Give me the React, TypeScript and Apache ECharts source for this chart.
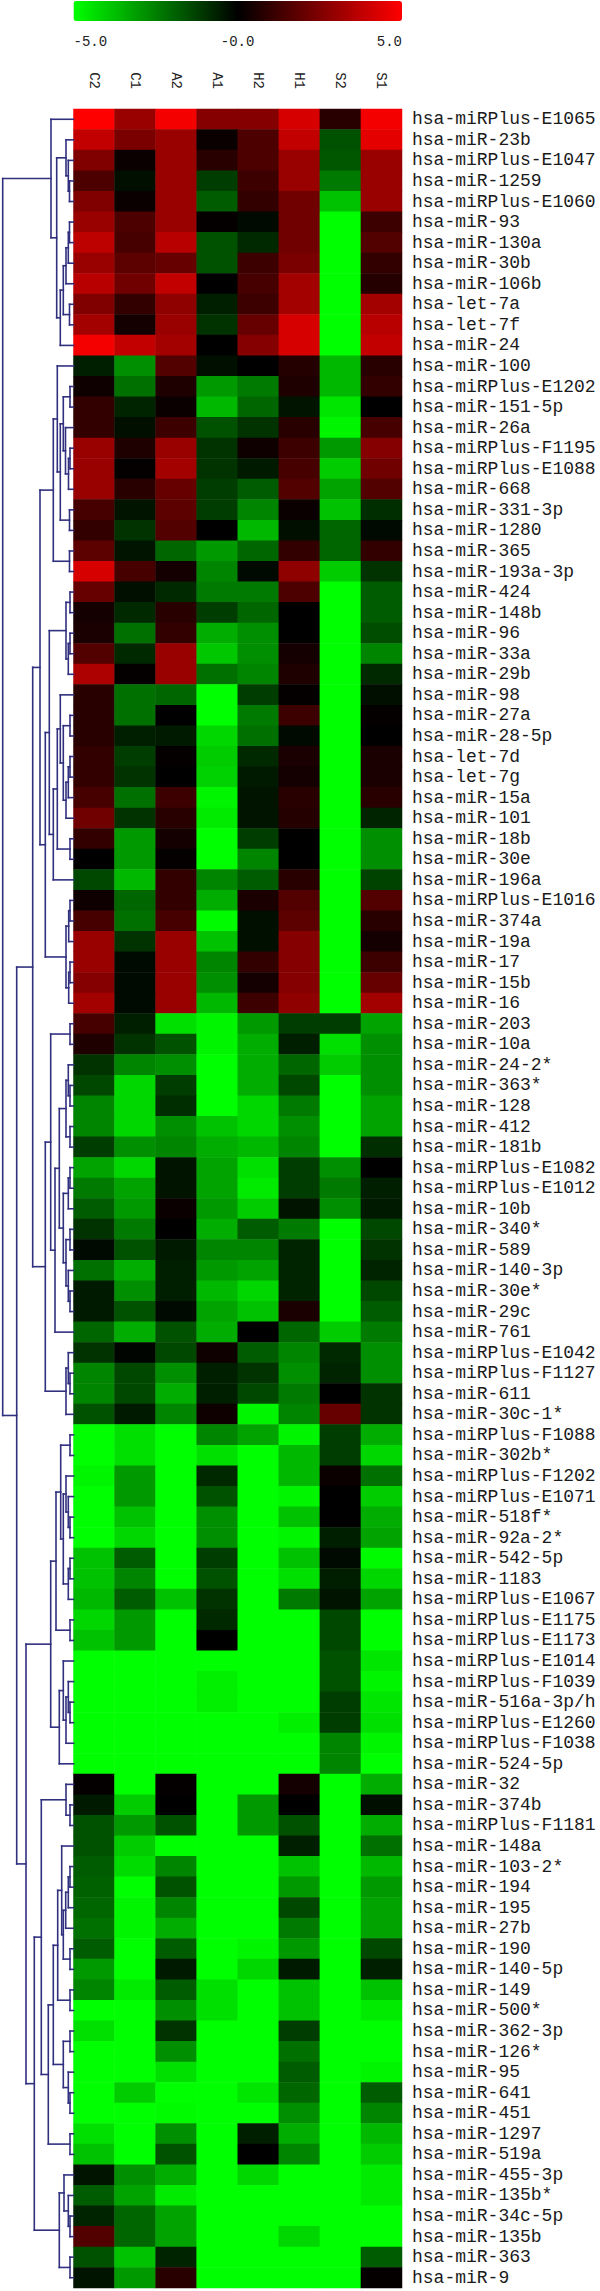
import React, { useEffect, useRef } from "react";
import * as echarts from "echarts";

const samples = ["C2", "C1", "A2", "A1", "H2", "H1", "S2", "S1"];

const mirnas = [
  "hsa-miRPlus-E1065","hsa-miR-23b","hsa-miRPlus-E1047","hsa-miR-1259","hsa-miRPlus-E1060","hsa-miR-93","hsa-miR-130a","hsa-miR-30b","hsa-miR-106b","hsa-let-7a","hsa-let-7f","hsa-miR-24",
  "hsa-miR-100","hsa-miRPlus-E1202","hsa-miR-151-5p","hsa-miR-26a","hsa-miRPlus-F1195","hsa-miRPlus-E1088","hsa-miR-668","hsa-miR-331-3p","hsa-miR-1280","hsa-miR-365","hsa-miR-193a-3p","hsa-miR-424",
  "hsa-miR-148b","hsa-miR-96","hsa-miR-33a","hsa-miR-29b","hsa-miR-98","hsa-miR-27a","hsa-miR-28-5p","hsa-let-7d","hsa-let-7g","hsa-miR-15a","hsa-miR-101","hsa-miR-18b",
  "hsa-miR-30e","hsa-miR-196a","hsa-miRPlus-E1016","hsa-miR-374a","hsa-miR-19a","hsa-miR-17","hsa-miR-15b","hsa-miR-16","hsa-miR-203","hsa-miR-10a","hsa-miR-24-2*","hsa-miR-363*",
  "hsa-miR-128","hsa-miR-412","hsa-miR-181b","hsa-miRPlus-E1082","hsa-miRPlus-E1012","hsa-miR-10b","hsa-miR-340*","hsa-miR-589","hsa-miR-140-3p","hsa-miR-30e*","hsa-miR-29c","hsa-miR-761",
  "hsa-miRPlus-E1042","hsa-miRPlus-F1127","hsa-miR-611","hsa-miR-30c-1*","hsa-miRPlus-F1088","hsa-miR-302b*","hsa-miRPlus-F1202","hsa-miRPlus-E1071","hsa-miR-518f*","hsa-miR-92a-2*","hsa-miR-542-5p","hsa-miR-1183",
  "hsa-miRPlus-E1067","hsa-miRPlus-E1175","hsa-miRPlus-E1173","hsa-miRPlus-E1014","hsa-miRPlus-F1039","hsa-miR-516a-3p/h","hsa-miRPlus-E1260","hsa-miRPlus-F1038","hsa-miR-524-5p","hsa-miR-32","hsa-miR-374b","hsa-miRPlus-F1181",
  "hsa-miR-148a","hsa-miR-103-2*","hsa-miR-194","hsa-miR-195","hsa-miR-27b","hsa-miR-190","hsa-miR-140-5p","hsa-miR-149","hsa-miR-500*","hsa-miR-362-3p","hsa-miR-126*","hsa-miR-95",
  "hsa-miR-641","hsa-miR-451","hsa-miR-1297","hsa-miR-519a","hsa-miR-455-3p","hsa-miR-135b*","hsa-miR-34c-5p","hsa-miR-135b","hsa-miR-363","hsa-miR-9",
];

const expression = [
  [5,3,4.8,2.6,2.6,4.2,0.8,4.8],[3.8,2.4,3,0.2,1.5,3.8,-1.6,4.5],[2.5,0.2,3,0.8,1.5,3,-1.7,3],[1.5,-0.3,3,-1.2,1.2,3,-2.4,3],
  [2.5,0.2,3,-1.8,1,2.2,-3.8,3],[3,1.5,3,0.1,-0.2,2.2,-5,1.2],[3.7,1.4,3.6,-1.6,-0.8,2.2,-5,1.6],[3,1.8,2,-1.6,1.2,2.4,-5,1],
  [3.6,2.2,3.8,0,1.4,3.2,-5,0.7],[2.5,1,2.8,-0.6,1.2,3.2,-5,3.2],[3.2,0.4,3,-1,2,4.2,-5,3.6],[4.8,3.8,3.2,0,2.6,4.2,-5,3.8],
  [-0.6,-2.8,1.6,-0.3,0,0.7,-3.6,0.8],[0.3,-2.2,0.6,-3,-2.4,0.6,-3.6,1],[1,-0.7,0.2,-3.6,-2,-0.4,-4.5,0],[1,-0.3,1.2,-1.6,-1,0.8,-4.8,1.4],
  [3,0.6,3,-1,0.3,1.2,-3,2.6],[3,0.1,3.2,-1,-0.5,1.4,-4,2.2],[3,0.8,2,-1.2,-1.8,1.6,-3.2,1.6],[1.4,-0.4,1.8,-1.2,-2.6,0.2,-3.8,-0.9],
  [1,-1,1.6,0,-3.6,-0.3,-2,-0.2],[1.8,-0.4,-2,-3,-2,1,-2,1],[4.2,1.4,0.4,-2.6,-0.2,2.8,-4,-1],[2,-0.3,-0.8,-2.4,-2.4,1.5,-5,-1.8],
  [0.4,-0.8,0.8,-1.2,-2,0,-5,-1.8],[0.5,-2.2,1,-3.4,-2.8,0,-5,-1.5],[1.6,-0.8,3,-3.9,-2.8,0.4,-5,-2.6],[3.4,0.1,3,-2.2,-2.6,0.6,-5,-0.8],
  [0.8,-2.2,-2,-5,-1.2,0.1,-5,-0.3],[0.8,-2.2,0,-5,-2.4,1.2,-5,0.1],[0.8,-0.6,-0.5,-4.2,-2.2,-0.2,-5,0],[1,-1.2,0.1,-4,-0.8,0.5,-5,0.5],
  [1,-1,0,-4.1,-0.5,0.4,-5,0.5],[1.4,-2.2,1.2,-4.8,-0.4,0.8,-5,0.8],[2.2,-1,0.8,-4.6,-0.4,0.7,-5,-0.7],[1,-3,0.4,-5,-1.2,0,-5,-2.8],
  [0,-3,0.1,-5,-2.6,0,-5,-2.8],[-1.4,-3.6,1,-2.6,-1.8,0.8,-5,-1.3],[0.3,-2,1,-3.4,0.5,1.6,-5,1.6],[1.4,-2.2,1.4,-4.9,-0.3,1.8,-5,0.8],
  [3,-1,3,-3.8,-0.3,2.6,-5,0.4],[3,-0.2,3,-2.6,1,2.6,-5,1.2],[2.6,-0.2,3,-2.8,0.4,2.6,-5,2],[3.2,-0.2,3,-3.6,1.2,2.8,-5,3.2],
  [1.4,-0.6,-4.4,-4.8,-3,-1.2,-1.2,-3.2],[0.6,-1,-1.6,-4.8,-3.4,-0.6,-4.4,-2.8],[-1,-2.6,-2.8,-5,-3.4,-2,-4,-2.8],[-1.4,-4.2,-1.2,-5,-3.4,-1.4,-5,-2.8],
  [-2.6,-4.2,-0.9,-5,-4.2,-2.4,-5,-3.2],[-2.6,-4.2,-2.8,-3.8,-4.2,-2.8,-5,-3.2],[-1.2,-2.8,-2.6,-3.4,-3.6,-2.6,-5,-0.9],[-3.2,-4.2,-0.4,-3.2,-4.4,-1.2,-2.8,0],
  [-2.4,-3.2,-0.4,-3.2,-4.6,-1.2,-2.4,-0.6],[-1.8,-3,0.2,-3,-4,-0.4,-2.8,-0.5],[-1,-2.4,0,-3.4,-1.8,-2.4,-5,-1.4],[-0.2,-1.6,-0.5,-2.6,-2.6,-0.7,-5,-1],
  [-2.2,-3.4,-0.6,-3,-3.2,-0.7,-5,-0.7],[-0.5,-2.8,-0.6,-3.6,-4.2,-0.7,-5,-1.4],[-0.5,-1.6,-0.2,-3.2,-3.8,0.5,-5,-1.8],[-2,-3.4,-1.6,-3.4,0,-2,-4,-2.4],
  [-1,-0.1,-1.4,0.3,-1.8,-2.6,-0.8,-2.8],[-2.6,-1.4,-2.8,-0.6,-1,-2.8,-0.7,-2.8],[-2.6,-1.4,-3.4,-0.6,-1.4,-2.4,0,-1],[-1.6,-0.5,-2.6,0.3,-4.8,-2.6,2,-1],
  [-5,-4.4,-5,-2.6,-3.2,-4.8,-1.2,-3.4],[-5,-4.4,-5,-4.4,-5,-3.6,-1.2,-4.2],[-4.8,-3,-5,-0.8,-5,-3.6,0.2,-2.2],[-5,-3,-5,-1.6,-5,-4.8,0,-4],
  [-5,-3.8,-5,-2.8,-5,-3.8,0,-3.4],[-5,-4.2,-5,-2.8,-5,-4.8,-0.6,-3.2],[-3.8,-1.8,-5,-1.2,-5,-3.8,-0.2,-4.9],[-3.8,-2.6,-5,-1.6,-5,-4.4,-0.6,-4.2],
  [-3.6,-1.8,-3.8,-1,-5,-2.4,-0.4,-3.2],[-4.2,-3,-5,-0.8,-5,-5,-1.4,-5],[-3.8,-3,-5,0,-5,-5,-1.4,-5],[-5,-5,-5,-5,-5,-5,-1.6,-4.5],
  [-5,-5,-5,-4.7,-5,-5,-1.6,-4.8],[-5,-5,-5,-4.7,-5,-5,-1.2,-4.5],[-5,-5,-5,-5,-5,-4.7,-1.2,-4.4],[-5,-5,-5,-5,-5,-5,-2.6,-4.8],
  [-5,-5,-5,-5,-5,-5,-2.6,-5],[0.1,-5,0.1,-5,-5,0.4,-5,-3.4],[-0.5,-4,0,-5,-3,0,-5,-0.3],[-1.6,-3,-1.6,-5,-3,-1.6,-5,-3.4],
  [-1.6,-4,-5,-5,-5,-0.6,-5,-2.2],[-1.8,-4.3,-2.6,-5,-5,-3.8,-5,-3.6],[-1.9,-5,-1.6,-5,-5,-3,-5,-3],[-2,-4.8,-2.6,-5,-5,-1.4,-5,-3.2],
  [-2.2,-4.8,-3.4,-5,-5,-2.4,-5,-3.2],[-1.8,-5,-1.8,-5,-4.8,-3,-5,-1.4],[-3,-5,-0.5,-5,-4.2,-0.5,-5,-0.6],[-2.6,-4.6,-1.8,-4.4,-5,-3.8,-5,-3.8],
  [-5,-5,-2.8,-4.4,-5,-3.8,-5,-4.6],[-4.4,-5,-1,-5,-5,-1.2,-5,-5],[-5,-5,-2.8,-5,-5,-2.2,-5,-5],[-5,-5,-4.4,-5,-5,-1.8,-5,-4.8],
  [-5,-4,-5,-5,-4.5,-2,-5,-1.8],[-5,-5,-4.9,-5,-5,-2.8,-5,-2.6],[-4.4,-5,-2.8,-5,-0.6,-3.4,-5,-3.6],[-3.8,-5,-1.6,-5,0,-2.6,-5,-4],
  [-0.4,-2.8,-3.4,-5,-4.2,-5,-5,-4.6],[-1.8,-3.2,-4.6,-5,-5,-5,-5,-4.6],[-0.7,-2,-3.2,-5,-5,-5,-5,-5],[1.6,-2,-3.2,-5,-5,-4.2,-5,-5],
  [-1.6,-3.8,-0.7,-5,-5,-5,-5,-1.8],[-0.4,-3,0.8,-5,-5,-5,-5,0.1],
];

const colorbarTicks = ["-5.0", "-0.0", "5.0"];

// Dendrogram: [merge level, child, child]; a plain number is a row index.
type Node = number | [number, Node, Node];
const clusterA: Node = [51, 0, [56.7, [66, 1, [68.3, 2, [69.5, 3, 4]]], [60.3, [63.3, [66, [68.3, [69.5, 5, 6], 7], 8], [69.5, 9, 10]], 11]]];
const clusterB: Node = [53.3, [57.3, 12, [60.3, [63.3, [70, 13, 14], [65.5, 15, [68.5, [70, 16, 17], 18]]], [69.5, 19, 20]]], [69.5, 21, 22]];
const clusterC1: Node = [66, [70, 23, 24], [68.3, [70, 25, 26], 27]];
const clusterC2: Node = [53.3, [57.3, [60.3, 28, [63.3, [70, 29, 30], [66, [68.3, [70, 31, 32], 33], 34]]], [70, 35, 36]], 37];
const clusterD: Node = [66, [68.7, [70, 38, 39], 40], [68.7, [70, 41, 42], 43]];
const clusterE: Node = [40, clusterB, [45.3, [49.3, clusterC1, clusterC2], clusterD]];
const clusterK: Node = [66, [68.3, 46, [70, 47, 48]], [70, 49, 50]];
const clusterM: Node = [66, [70, 54, 55], [68.3, 56, [70, 57, 58]]];
const clusterI: Node = [45.3, [50.7, [70, 44, 45], [55, [59.3, clusterK, [63.3, [68.3, [70, 51, 52], 53], clusterM]], 59]], [66, [68.3, 60, [70, 61, 62]], 63]];
const clusterN: Node = [60.7, [70, 64, 65], [63.3, [66, 66, [68.3, 67, [70, 68, 69]]], [68.3, [70, 70, 71], 72]]];
const clusterP: Node = [50.7, [56, clusterN, [70, 73, 74]], [59.3, [63.3, 75, [66, [68.3, 76, [70, 77, 78]], 79]], 80]];
const clusterU1: Node = [57.7, [61.7, 84, [63.3, [65.7, [68.3, [70, 85, 86], 87], 88], [70, 89, 90]]], [70, 91, 92]];
const clusterU2: Node = [63.3, [70, 93, 94], [68.3, 95, [70, 96, 97]]];
const clusterR: Node = [41.3, [66, 81, [70, 82, 83]], [48.3, [53.3, clusterU1, clusterU2], [70, 98, 99]]];
const clusterS: Node = [59.3, [64, 100, [68.3, 101, [70, 102, 103]]], [70, 104, 105]];
const dendrogram: Node = [2.7, clusterA, [16.7, [32.7, clusterE, clusterI], [26, clusterP, [34.3, clusterR, clusterS]]]];

const LEAF_LEVEL = 73.5;
const treeSegments: number[][] = [];
function walk(node: Node): [number, number] {
  if (typeof node === "number") return [LEAF_LEVEL, node + 0.5];
  const [level, a, b] = node;
  const [xa, ya] = walk(a);
  const [xb, yb] = walk(b);
  treeSegments.push([xa, ya, level, ya], [level, ya, level, yb], [xb, yb, level, yb]);
  return [level, (ya + yb) / 2];
}
walk(dendrogram);

const heatData: number[][] = [];
expression.forEach((row, r) => row.forEach((v, c) => heatData.push([c, r, v])));

const MONO = "'Liberation Mono', monospace";

export default function App() {
  const ref = useRef<HTMLDivElement>(null);
  useEffect(() => {
    document.body.style.margin = "0";
    const chart = echarts.init(ref.current!, undefined, { renderer: "svg" });
    chart.setOption({
      animation: false,
      backgroundColor: "#ffffff",
      grid: [
        { left: 73.5, top: 109, width: 328.5, height: 2179 },
        { left: 0, top: 109, width: 73.5, height: 2179 },
      ],
      xAxis: [
        {
          type: "category", gridIndex: 0, position: "top", data: samples,
          axisLine: { show: false }, axisTick: { show: false }, splitLine: { show: false },
          axisLabel: { rotate: 90, margin: 20, fontFamily: MONO, fontSize: 14, color: "#222222", interval: 0 },
        },
        { type: "value", gridIndex: 1, min: 0, max: LEAF_LEVEL, show: false },
      ],
      yAxis: [
        {
          type: "category", gridIndex: 0, position: "right", inverse: true, data: mirnas,
          axisLine: { show: false }, axisTick: { show: false }, splitLine: { show: false },
          axisLabel: { margin: 10, fontFamily: MONO, fontSize: 18, color: "#1a1a1a", interval: 0 },
        },
        { type: "value", gridIndex: 1, min: 0, max: mirnas.length, inverse: true, show: false },
      ],
      visualMap: {
        type: "continuous", min: -5, max: 5, seriesIndex: 0, orient: "horizontal",
        left: 73.5, top: 1, itemWidth: 20, itemHeight: 328.5, padding: 0,
        calculable: false, hoverLink: false, text: null,
        inRange: { color: ["#00ff00", "#000000", "#ff0000"] },
      },
      graphic: [
        { type: "text", x: 73.5, y: 42, style: { text: colorbarTicks[0], fontFamily: MONO, fontSize: 14, fill: "#222222", textAlign: "left", textVerticalAlign: "middle" } },
        { type: "text", x: 237.6, y: 42, style: { text: colorbarTicks[1], fontFamily: MONO, fontSize: 14, fill: "#222222", textAlign: "center", textVerticalAlign: "middle" } },
        { type: "text", x: 402, y: 42, style: { text: colorbarTicks[2], fontFamily: MONO, fontSize: 14, fill: "#222222", textAlign: "right", textVerticalAlign: "middle" } },
      ],
      series: [
        {
          type: "heatmap", xAxisIndex: 0, yAxisIndex: 0, data: heatData, progressive: 0,
          itemStyle: { borderWidth: 0 }, emphasis: { disabled: true },
        },
        {
          type: "custom", xAxisIndex: 1, yAxisIndex: 1, data: treeSegments, silent: true, clip: false,
          renderItem: (_p: any, api: any) => {
            const a = api.coord([api.value(0), api.value(1)]);
            const b = api.coord([api.value(2), api.value(3)]);
            return {
              type: "line",
              shape: { x1: a[0], y1: a[1], x2: b[0], y2: b[1] },
              style: { stroke: "#30307f", lineWidth: 1.6, lineCap: "square" },
            };
          },
        },
      ],
    });
    return () => chart.dispose();
  }, []);
  return <div ref={ref} style={{ width: 600, height: 2291 }} />;
}
